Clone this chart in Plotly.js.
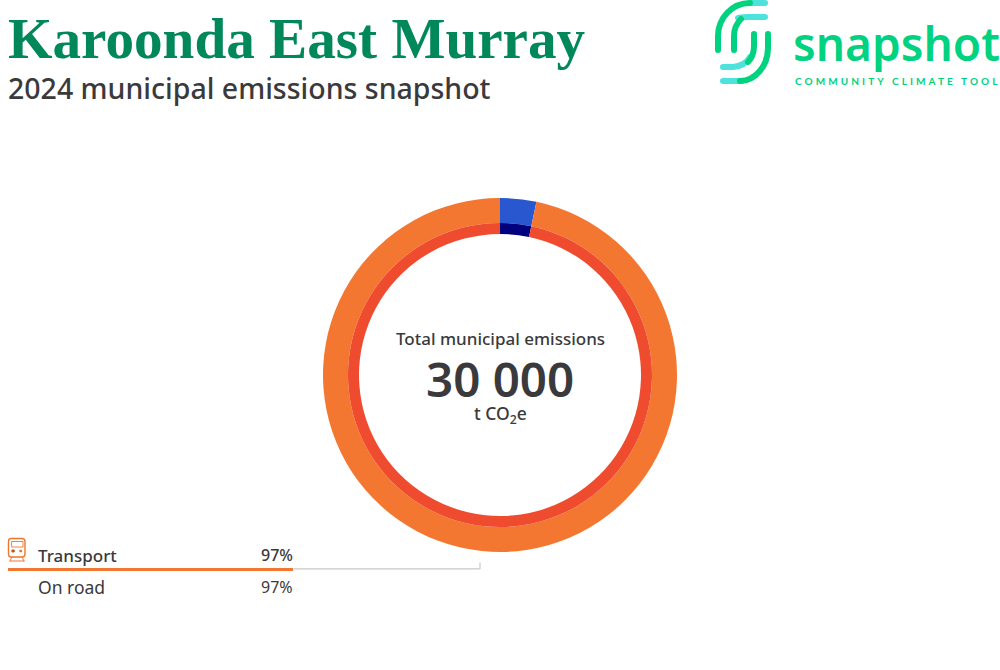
<!DOCTYPE html>
<html><head><meta charset="utf-8">
<script src="https://cdn.plot.ly/plotly-3.0.1.min.js"></script>
<style>
html,body{margin:0;padding:0;background:#fff}
#chart{width:1000px;height:670px}
.shapelayer path{stroke-linecap:round;stroke-linejoin:round}
.annotation[data-index="8"] text{letter-spacing:3.1px}
</style></head><body><div id="chart"></div>
<script>
const sectorLabels = ['Other', 'Transport'];
const sectorValues = [3.3, 96.7];
const sectorColors = ['#2857D0', '#F47731'];
const subLabels = ['Other', 'On road'];
const subValues = [3.3, 96.7];
const subColors = ['#00007F', '#EF4B2F'];
const barValue = [97];
const rowPercent = ['97%', '97%'];
const titleText = 'Karoonda East Murray';
const subtitleText = '2024 municipal emissions snapshot';
const centerLabel = 'Total municipal emissions';
const centerValue = '30 000';
const centerUnit = 't CO<sub>2</sub>e';

const W = 1000, H = 670;
const fx = v => v / W, fy = v => 1 - v / H;
const ring = (labels, values, colors, r, inner) => ({
  type: 'pie', labels, values, sort: false, direction: 'clockwise', rotation: 0,
  hole: inner / r, textinfo: 'none', hoverinfo: 'label+percent', showlegend: false,
  marker: {colors, line: {width: 0}},
  domain: {x: [fx(500 - r), fx(500 + r)], y: [fy(375 + r), fy(375 - r)]}
});
const ink = '#3A3A3C', body = '"Noto Sans", sans-serif';
const note = (text, x, y, font, opts = {}) => Object.assign({
  text, x: fx(x), y: fy(y), xref: 'paper', yref: 'paper', showarrow: false,
  xanchor: 'left', yanchor: 'middle', borderpad: 0, borderwidth: 0,
  font: Object.assign({family: body, color: ink}, font)
}, opts);

const path = (d, color, width) => ({type: 'path', xref: 'paper', yref: 'paper', path: d, line: {color, width}, layer: 'above'});
const P = s => s.replace(/(-?[\d.]+) (-?[\d.]+)/g, (m, a, b) => `${fx(+a)} ${fy(+b)}`);
const logoGreen = '#00D27F', logoTeal = '#4DE3DC', icon = '#F0762E';

const shapes = [
  path(P('M 750 3 L 765 3'), logoTeal, 6),
  path(P('M 738 18 Q 743 17 748 17 L 765 17'), logoTeal, 6),
  path(P('M 723 67 L 733 67 Q 745 66 750 57'), logoTeal, 6),
  path(P('M 723 81 L 742 81'), logoTeal, 6),
  path(P('M 718 50 L 718 36 C 718 18 732 3 750 3'), logoGreen, 6),
  path(P('M 734 50 L 734 36 C 734 29 736 24 741 19'), logoGreen, 6),
  path(P('M 754 34 L 754 46 C 754 52 752 58 748 62'), logoGreen, 6),
  path(P('M 768 34 L 768 48 C 768 66 755 81 740 81'), logoGreen, 6),
  path(P('M 294 568.8 L 480 568.8 L 480 563'), '#C8C8C8', 1.2),
  path(P('M 11 538.5 L 22 538.5 Q 25 538.5 25 541.5 L 25 554 Q 25 557 22 557 L 11 557 Q 8.5 557 8.5 554 L 8.5 541.5 Q 8.5 538.5 11 538.5 Z'), icon, 1.4),
  path(P('M 12 541.5 L 23 541.5 L 23 547 L 12 547 Z'), icon, 0.9),
  path(P('M 12 557 L 10 561 M 22 557 L 24 561 M 10 561 L 24 561'), icon, 1),
  path(P('M 12.7 551 L 13.5 551'), '#B9561A', 2.8),
  path(P('M 20.5 551 L 21 551'), icon, 2.6)
];

const data = [
  ring(sectorLabels, sectorValues, sectorColors, 177, 152),
  ring(subLabels, subValues, subColors, 152, 141),
  {type: 'bar', orientation: 'h', x: barValue, y: [sectorLabels[1]], marker: {color: '#F47731', line: {width: 0}},
   width: 1, hoverinfo: 'x', showlegend: false}
];

const layout = {
  width: W, height: H, margin: {l: 0, r: 0, t: 0, b: 0},
  paper_bgcolor: '#fff', plot_bgcolor: 'rgba(0,0,0,0)', showlegend: false,
  xaxis: {domain: [fx(8), fx(293)], range: [0, 97], visible: false, fixedrange: true},
  yaxis: {domain: [fy(571), fy(568)], type: 'category', visible: false, fixedrange: true},
  shapes,
  annotations: [
    note(titleText, 8, 38, {family: 'Liberation Serif, serif', size: 57.2, color: '#00875A', weight: 700}),
    note(subtitleText, 8, 88, {size: 28.5, weight: 500}),
    note(centerLabel, 500, 339, {size: 17, weight: 500}, {xanchor: 'center'}),
    note(centerValue, 500, 378, {size: 47.5, weight: 600}, {xanchor: 'center'}),
    note(centerUnit, 500, 414, {size: 17.5, weight: 500}, {xanchor: 'center'}),
    note(sectorLabels[1], 38, 555, {size: 17, weight: 500}),
    note(rowPercent[0], 293, 555, {size: 16, weight: 500}, {xanchor: 'right'}),
    note('snapshot', 793, 43, {size: 46, color: logoGreen, weight: 600}),
    note('COMMUNITY CLIMATE TOOL', 795, 81, {family: 'Lato, sans-serif', size: 10, color: logoGreen, weight: 700}, {xshift: 34}),
    note(subLabels[1], 38, 587, {size: 17.5}),
    note(rowPercent[1], 293, 587, {size: 16}, {xanchor: 'right'})
  ]
};
Plotly.newPlot('chart', data, layout, {displayModeBar: false, responsive: false});
</script></body></html>
